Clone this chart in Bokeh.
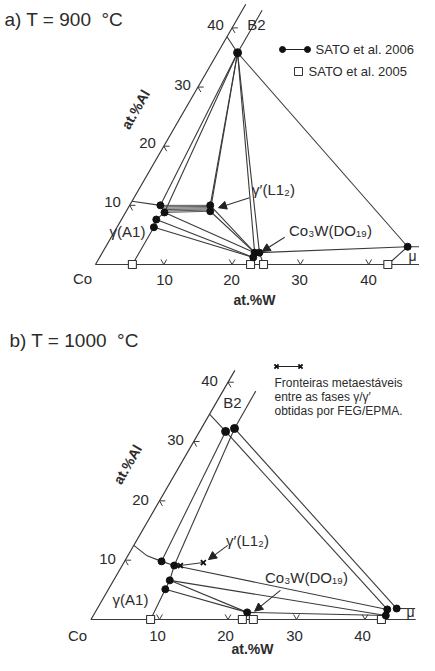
import numpy as np
from bokeh.plotting import figure
from bokeh.layouts import column
from bokeh.models import Range1d, Arrow, NormalHead
from bokeh.embed import file_html
from bokeh.resources import INLINE
from bokeh.core.properties import value

# ---------------- data (at.% W, at.% Al) ----------------
# a) T = 900 °C
a_gamma_W = [4.5, 5.7, 5.1, 5.4]
a_gamma_Al = [10.0, 8.8, 7.6, 6.3]
a_gprime_W = [11.8, 12.3]
a_gprime_Al = [10.0, 9.0]
a_co3w_W = [22.3, 22.5, 23.0]
a_co3w_Al = [2.0, 1.2, 2.0]
a_mu_W = [44.2]
a_mu_Al = [3.0]
a_b2_W = [2.9]
a_b2_Al = [35.8]
a_sq_W = [5.4, 22.7, 24.6, 42.8]          # SATO 2005 (Al = 0)
a_gamma_edge = [(0.0, 10.7)]
a_b2_edge = (0.0, 38.5)
a_b2_top = (2.9, 43.0)
a_mu_end = (46.0, 3.0)
a_axis_max = (44.0, 47.9)                  # Al, W

# b) T = 1000 °C
b_gamma_W = [5.4, 7.6, 8.2, 8.3]
b_gamma_Al = [9.8, 9.1, 6.6, 5.1]
b_meta_W = [8.5, 11.6]
b_meta_Al = [9.1, 9.6]
b_co3w_W = [22.2]
b_co3w_Al = [1.2]
b_mu_W = [43.7, 42.4, 42.7]
b_mu_Al = [1.85, 1.7, 0.67]
b_b2_W = [3.8, 4.85]
b_b2_Al = [31.7, 32.2]
b_sq_W = [8.7, 22.1, 23.7, 42.4]
b_gamma_edge = [(0.0, 12.5), (2.7, 10.8)]
b_b2_edge = (0.0, 34.6)
b_b2_top = (4.8, 38.5)
b_mu_end = (46.4, 1.85)
b_axis_max = (42.0, 47.4)

tick_vals = [10, 20, 30, 40]
tick_labels = ["10", "20", "30", "40"]

# ---------------- style ----------------
FONT = "Liberation Sans"
TXT = "#2b2b2b"
LN = "#3a3a3a"
H = np.sqrt(3) / 2
NB = "\u00a0"


def tx(W, Al):
    return float(W) + float(Al) / 2.0


def ty(Al):
    return float(Al) * H


class Frame:
    def __init__(self, top, height, ox, oy, s):
        self.top, self.height, self.ox, self.oy, self.s = top, height, ox, oy, s
        p = figure(width=419, height=height,
                   x_range=Range1d((8 - ox) / s, (427 - ox) / s),
                   y_range=Range1d((oy - (top + height)) / s, (oy - top) / s),
                   output_backend="svg", toolbar_location=None,
                   x_axis_location=None, y_axis_location=None,
                   min_border=0)
        p.grid.visible = False
        p.outline_line_color = None
        p.background_fill_color = "white"
        p.border_fill_color = "white"
        self.p = p

    def px(self, x, y):
        return (x - self.ox) / self.s, (self.oy - y) / self.s

    def text(self, x, y, t, size, bold=False, align="center", angle=0.0, color=TXT):
        X, Y = self.px(x, y)
        self.p.text(x=[X], y=[Y], text=[t], text_font=value(FONT),
                    text_font_size=f"{size}px",
                    text_font_style="bold" if bold else "normal",
                    text_align=align, text_baseline="middle",
                    angle=angle, text_color=color)

    def lines(self, polylines, width=1.1, color=LN):
        xs = [[tx(w, a) for w, a in pl] for pl in polylines]
        ys = [[ty(a) for w, a in pl] for pl in polylines]
        self.p.multi_line(xs=xs, ys=ys, line_color=color, line_width=width)

    def frame_axes(self, al_max, w_max):
        self.lines([[(0, al_max), (0, 0), (w_max, 0)]], width=1.2)
        L = 0.85
        segs_x, segs_y = [], []
        for t in tick_vals:
            segs_x.append([t - L * 0.5, t, t + L * 0.5])
            segs_y.append([L * H, 0, L * H])
            x0, y0 = t / 2.0, t * H
            segs_x.append([x0 + L, x0, x0 + L * 0.5])
            segs_y.append([y0, y0, y0 - L * H])
        self.p.multi_line(xs=segs_x, ys=segs_y, line_color=LN, line_width=1.0)

    def dots(self, W, Al, size=7):
        self.p.scatter(x=[tx(w, a) for w, a in zip(W, Al)], y=[ty(a) for a in Al],
                       size=size, fill_color="#111111", line_color="#111111")

    def squares(self, W, size=8):
        self.p.scatter(x=list(map(float, W)), y=[0.0] * len(W), marker="square",
                       size=size, fill_color="white", line_color="#333333", line_width=1.1)

    def arrow(self, a, b):
        self.p.add_layout(Arrow(end=NormalHead(size=8, fill_color="#222222", line_color="#222222"),
                                x_start=tx(*a), y_start=ty(a[1]), x_end=tx(*b), y_end=ty(b[1]),
                                line_color="#333333", line_width=1.1))


# ======================= panel a =======================
A = Frame(top=8, height=320, ox=103, oy=272, s=6.83)
A.frame_axes(*a_axis_max)
G = list(zip(a_gamma_W, a_gamma_Al))
GP = list(zip(a_gprime_W, a_gprime_Al))
C = list(zip(a_co3w_W, a_co3w_Al))
M = list(zip(a_mu_W, a_mu_Al))
B = list(zip(a_b2_W, a_b2_Al))
S = [(w, 0.0) for w in a_sq_W]

pl = [
    a_gamma_edge + [G[0], G[1], G[2], G[3], S[0]],
    [a_b2_edge, B[0], a_b2_top],
    [B[0], G[0]], [B[0], G[1]], [B[0], GP[0]], [B[0], GP[1]],
    [B[0], C[0]], [B[0], C[2]], [B[0], M[0]],
    [GP[0], GP[1]], [GP[0], C[0]], [GP[1], C[0]],
    [G[1], C[0]], [G[2], C[1]], [G[3], C[1]],
    [C[2], M[0]], [M[0], a_mu_end], [M[0], S[3]], [C[1], S[1]], [C[2], S[2]],
]
A.lines(pl)
hatch = []
for f in np.linspace(0, 1, 6):
    p0 = (G[0][0] + f * (G[1][0] - G[0][0]), G[0][1] + f * (G[1][1] - G[0][1]))
    p1 = (GP[0][0] + f * (GP[1][0] - GP[0][0]), GP[0][1] + f * (GP[1][1] - GP[0][1]))
    hatch.append([p0, p1])
A.lines(hatch, width=0.9, color="#444444")

A.squares(a_sq_W)
A.dots(a_gamma_W, a_gamma_Al)
A.dots(a_gprime_W, a_gprime_Al)
A.dots(a_co3w_W, a_co3w_Al)
A.dots(a_mu_W, a_mu_Al)
A.dots(a_b2_W, a_b2_Al, size=8)
A.arrow((16.9, 11.3), (13.2, 9.6))
A.arrow((25.4, 4.6), (23.3, 2.2))

A.text(12, 27, "a) T = 900" + NB + NB + "°C", 19, align="left")
A.text(143, 117, "at.%Al", 14, bold=True, angle=np.pi / 3)
for lab, (x, y) in zip(tick_labels, [(120, 209), (155, 150), (190, 92), (223, 32)]):
    A.text(x, y, lab, 15)
for lab, x in zip(tick_labels, [172, 239, 307, 376]):
    A.text(x, 287, lab, 15)
A.text(90, 286, "Co", 15)
A.text(262, 307, "at.%W", 14, bold=True)
A.text(135, 239, "γ(A1)", 15)
A.text(281, 197, "γ′(L1₂)", 15)
A.text(338, 238, "Co₃W(DO₁₉)", 15)
A.text(264, 32, "B2", 15)
A.text(420, 263, "μ", 14)
lx0, ly0 = A.px(290, 57)
lx1, _ = A.px(315, 57)
A.p.line([lx0, lx1], [ly0, ly0], line_color="#222222", line_width=1.2)
A.p.scatter([lx0, lx1], [ly0, ly0], size=6, fill_color="#111111", line_color="#111111")
A.text(323, 57, "SATO et al. 2006", 13, align="left")
sx, sy = A.px(306, 79)
A.p.scatter([sx], [sy], marker="square", size=8, fill_color="white", line_color="#333333")
A.text(316, 79, "SATO et al. 2005", 13, align="left")

# ======================= panel b =======================
Bf = Frame(top=328, height=335, ox=98.5, oy=627, s=6.85)
Bf.frame_axes(*b_axis_max)
G = list(zip(b_gamma_W, b_gamma_Al))
X = list(zip(b_meta_W, b_meta_Al))
C = list(zip(b_co3w_W, b_co3w_Al))
M = list(zip(b_mu_W, b_mu_Al))
B = list(zip(b_b2_W, b_b2_Al))
S = [(w, 0.0) for w in b_sq_W]

pl = [
    b_gamma_edge + [G[0], G[1], G[2], G[3], S[0]],
    [G[1], X[0], X[1]],
    [b_b2_edge, B[0]], [B[1], b_b2_top],
    [B[0], G[0]], [B[1], G[1]], [B[0], M[1]], [B[1], M[0]],
    [G[1], M[1]], [G[2], M[2]], [G[2], C[0]], [G[3], C[0]],
    [C[0], M[2]], [M[0], b_mu_end], [M[2], S[3]], [C[0], S[1]], [C[0], S[2]],
]
Bf.lines(pl)
Bf.squares(b_sq_W)
Bf.dots(b_gamma_W, b_gamma_Al)
Bf.dots(b_co3w_W, b_co3w_Al)
Bf.dots(b_mu_W, b_mu_Al)
Bf.dots(b_b2_W, b_b2_Al, size=8)
Bf.p.scatter([tx(w, a) for w, a in X], [ty(a) for w, a in X], marker="x", size=7,
             line_color="#111111", line_width=1.8)
Bf.arrow((13.7, 12.5), (12.1, 10.1))
Bf.arrow((25.2, 4.9), (23.2, 1.4))

Bf.text(17, 348, "b) T = 1000" + NB + NB + "°C", 19, align="left")
Bf.text(135, 472, "at.%Al", 14, bold=True, angle=np.pi / 3)
for lab, (x, y) in zip(tick_labels, [(115, 566), (148, 507), (183, 447), (217, 388)]):
    Bf.text(x, y, lab, 15)
for lab, x in zip(tick_labels, [165, 233, 302, 370]):
    Bf.text(x, 643, lab, 15)
Bf.text(85, 643, "Co", 15)
Bf.text(260, 656, "at.%W", 14, bold=True)
Bf.text(138, 607, "γ(A1)", 15)
Bf.text(255, 548, "γ′(L1₂)", 15)
Bf.text(314, 585, "Co₃W(DO₁₉)", 15)
Bf.text(240, 410, "B2", 15)
Bf.text(418, 619, "μ", 14)
mx0, my0 = Bf.px(284, 374)
mx1, _ = Bf.px(308, 374)
Bf.p.line([mx0, mx1], [my0, my0], line_color="#222222", line_width=1.2)
Bf.p.scatter([mx0, mx1], [my0, my0], marker="x", size=6, line_color="#111111", line_width=1.8)
Bf.text(282, 390, "Fronteiras metaestáveis", 12, align="left")
Bf.text(282, 404, "entre as fases γ/γ′", 12, align="left")
Bf.text(282, 418, "obtidas por FEG/EPMA.", 12, align="left")

layout = column(A.p, Bf.p, spacing=0)
open("out.html", "w").write(file_html(layout, INLINE))
